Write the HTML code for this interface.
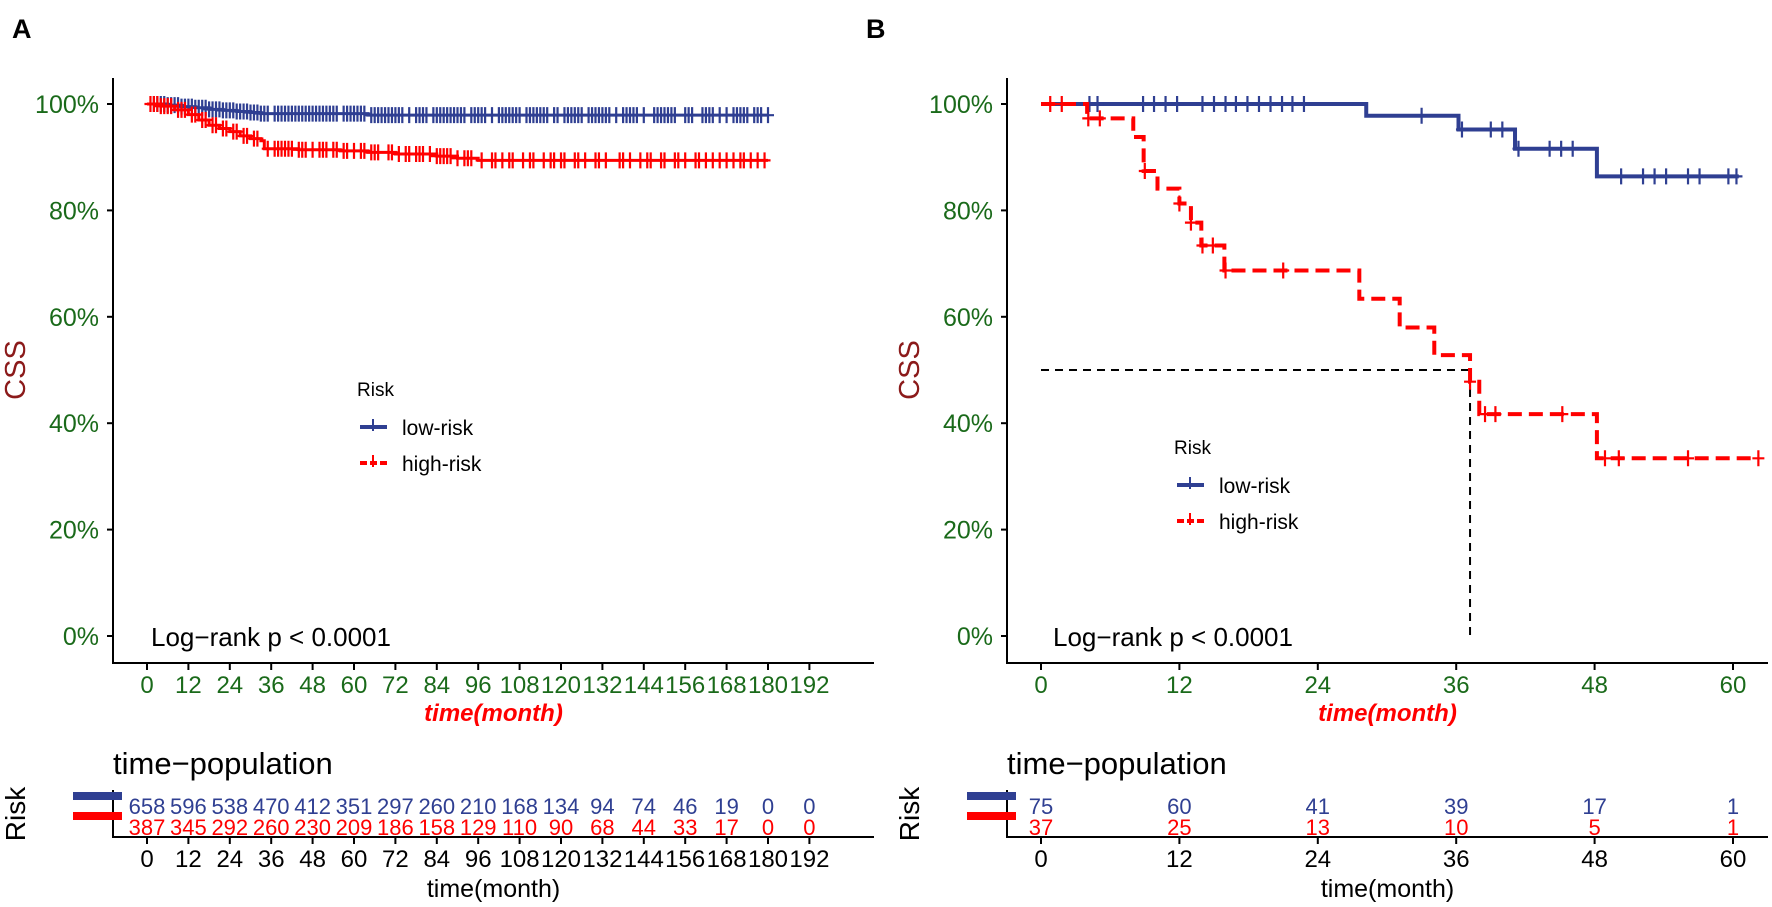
<!DOCTYPE html>
<html><head><meta charset="utf-8">
<style>
html,body{margin:0;padding:0;background:#fff;}
svg{display:block;font-family:"Liberation Sans",Arial,sans-serif;}
</style></head>
<body>
<svg id="fig" width="1772" height="907" viewBox="0 0 1772 907" xmlns="http://www.w3.org/2000/svg">
<rect width="1772" height="907" fill="#fff"/>
<text x="12" y="38" font-size="27" font-weight="bold">A</text>
<text x="866" y="38" font-size="27" font-weight="bold">B</text>
<g id="pa"></g>
<g id="pb"></g>
</svg>
<script>
// ---------- Panel A data ----------
const aLowTimes = [0,6,10,14,18,22,26,30,33,64];
const aLowSurv  = [100,99.8,99.5,99.3,99.0,98.8,98.6,98.4,98.2,97.9];
const aHighTimes = [0,4,8,12,15,18,21,24,27,30,33,34,44,56,64,72,84,90,96];
const aHighSurv  = [100,99.6,98.9,98.0,97.0,96.0,95.4,94.8,94.0,93.5,93.1,91.6,91.4,91.2,90.9,90.6,90.2,89.8,89.4];
const aLowCensor = [2,3,4,5,6,7,8,9,10,11,12,13,14,15,16,17,18,19,20,21,22,23,24,25,26,27,28,29,30,31,32,33,34,35,37,38,39,40,41,42,43,44,45,46,47,48,49,50,51,52,53,54,55,57,58,59,60,61,62,63,65,66,67,68,69,70,71,72,73,74,76,78,79,80,81,83,84,85,86,87,88,89,90,91,92,94,95,96,97,98,100,102,103,104,105,106,107,108,110,111,112,113,114,115,116,118,119,121,122,123,124,125,126,128,129,130,131,132,133,134,136,138,139,140,141,142,144,147,148,149,150,151,152,153,156,157,158,161,162,163,164,166,168,170,171,172,173,174,176,177,178,180];
const aHighCensor = [1,2,3,4,5,6,7,9,10,11,13,14,16,17,19,20,22,23,25,26,28,29,31,32,35,37,38,39,40,41,42,44,45,46,48,50,51,52,54,55,57,58,60,62,63,65,66,67,70,71,73,75,76,78,79,80,82,84,85,86,87,88,90,92,93,94,97,100,101,103,105,106,109,111,112,115,117,118,120,121,124,125,127,130,131,133,137,138,140,143,145,146,149,150,153,154,156,159,160,162,164,166,168,170,172,173,175,177,179];
const aTicks = [0,12,24,36,48,60,72,84,96,108,120,132,144,156,168,180,192];
const aRiskLow  = [658,596,538,470,412,351,297,260,210,168,134,94,74,46,19,0,0];
const aRiskHigh = [387,345,292,260,230,209,186,158,129,110,90,68,44,33,17,0,0];
// ---------- Panel B data ----------
const bLowTimes = [0,28.2,36.2,41.1,48.2];
const bLowSurv  = [100,97.8,95.2,91.6,86.4];
const bHighTimes = [0,4.0,8.0,8.9,10.1,12.0,13.0,13.9,15.9,27.6,31.1,34.1,37.2,38.0,48.2];
const bHighSurv  = [100,97.3,93.8,87.4,84.1,81.3,77.7,73.4,68.7,63.4,58.0,52.8,47.8,41.7,33.4];
const bLowCensor = [4.2,4.9,8.85,9.8,10.8,11.8,14.0,15.0,16.0,16.9,17.9,18.9,19.9,20.9,21.8,22.8,33.0,36.5,39.0,40.0,41.4,44.1,45.1,46.1,50.3,52.2,53.2,54.2,56.1,57.1,59.6,60.3];
const bHighCensor = [0.8,1.8,4.1,5.1,9.0,12.0,13.0,14.0,14.9,16.0,21.0,37.2,38.5,39.4,45.2,48.9,50.1,56.1,62.2];
const bTicks = [0,12,24,36,48,60];
const bRiskLow  = [75,60,41,39,17,1];
const bRiskHigh = [37,25,13,10,5,1];
const yTicks = [0,20,40,60,80,100];
const medianB = [37.2, 50];

const NS='http://www.w3.org/2000/svg';
const BLUE='#2f3f92', RED='#ff0000', GREEN='#1a6a1a', DARKRED='#8b1a1a';
function mk(parent, tag, attrs, txt){
  const e=document.createElementNS(NS,tag);
  for(const k in attrs) e.setAttribute(k,attrs[k]);
  if(txt!==undefined) e.textContent=txt;
  parent.appendChild(e); return e;
}
const yOf = p => 636 - p*5.32;
function survAt(times,surv,t){let v=surv[0];for(let i=0;i<times.length;i++){if(t>=times[i]) v=surv[i];}return v;}

function panel(g, cfg){
  const xOf = t => cfg.x0 + t*cfg.ppm;
  const ax = cfg.axisX, axEnd = cfg.axisEnd;
  let e=mk(g,'line',{x1:ax,y1:78,x2:ax,y2:663,stroke:'#000','stroke-width':2});
  
  
  e=mk(g,'line',{x1:ax-1,y1:663,x2:axEnd,y2:663,stroke:'#000','stroke-width':2});
  
  
  yTicks.forEach(p=>{
    mk(g,'line',{x1:ax-6,y1:yOf(p),x2:ax,y2:yOf(p),stroke:'#000','stroke-width':2});
    const t=mk(g,'text',{x:ax-14,y:yOf(p)+9,'font-size':25,'text-anchor':'end',fill:GREEN},p+'%');
    
    
  });
  cfg.ticks.forEach(v=>{
    mk(g,'line',{x1:xOf(v),y1:663,x2:xOf(v),y2:670,stroke:'#000','stroke-width':2});
    const t=mk(g,'text',{x:xOf(v),y:693,'font-size':24,'text-anchor':'middle',fill:GREEN},String(v));
    
    
  });
  e=mk(g,'text',{x:(ax+axEnd)/2,y:721,'font-size':24,'font-weight':'bold','font-style':'italic','text-anchor':'middle',fill:RED},'time(month)');
  
  
  e=mk(g,'text',{x:0,y:0,'font-size':29,'text-anchor':'middle',fill:DARKRED,transform:`translate(${ax-88},370) rotate(-90)`},'CSS');
  
  
  if(cfg.median){
    const [mt,mp]=cfg.median;
    e=mk(g,'path',{d:`M${xOf(0)},${yOf(mp)}H${xOf(mt)}V${yOf(0)}`,fill:'none',stroke:'#000','stroke-width':2,'stroke-dasharray':'8,6'});
    
    
  }
  const series=[
    {t:cfg.lowT,s:cfg.lowS,c:cfg.lowC,end:cfg.lowEnd,col:BLUE,dash:null,name:'low-risk'},
    {t:cfg.highT,s:cfg.highS,c:cfg.highC,end:cfg.highEnd,col:RED,dash:cfg.dash,name:'high-risk'}
  ];
  series.forEach(sr=>{
    let d=`M${xOf(sr.t[0])},${yOf(sr.s[0])}`;
    for(let i=1;i<sr.t.length;i++){d+=`H${xOf(sr.t[i])}V${yOf(sr.s[i])}`;}
    d+=`H${xOf(sr.end)}`;
    const p=mk(g,'path',{d:d,fill:'none',stroke:sr.col,'stroke-width':cfg.lw});
    if(sr.dash) p.setAttribute('stroke-dasharray',sr.dash);
    
    
    sr.c.forEach(ct=>{
      const yy=yOf(survAt(sr.t,sr.s,ct));
      const m=mk(g,'path',{d:`M${xOf(ct)},${yy-8}V${yy+8}M${xOf(ct)-6},${yy}H${xOf(ct)+6}`,stroke:sr.col,'stroke-width':2.2});
      
      
    });
  });
  e=mk(g,'text',{x:cfg.lrX,y:646,'font-size':26,'xml:space':'preserve'},cfg.lrText);
  
  
  const L=cfg.leg;
  e=mk(g,'text',{x:L.x,y:L.y+7,'font-size':19},'Risk');
  
  
  [[BLUE,null,'low-risk',L.y+38],[RED,'7,3','high-risk',L.y+74]].forEach(([col,ds,lab,yy])=>{
    const lg=mk(g,'g',{});
    
    
    const ln=mk(lg,'line',{x1:L.x+3,y1:yy,x2:L.x+30,y2:yy,stroke:col,'stroke-width':4});
    if(ds) ln.setAttribute('stroke-dasharray',ds);
    mk(lg,'line',{x1:L.x+16,y1:yy-8,x2:L.x+16,y2:yy+4,stroke:col,'stroke-width':2});
    mk(lg,'text',{x:L.x+45,y:yy+8,'font-size':21},lab);
  });
  e=mk(g,'text',{x:ax,y:774,'font-size':31},'time\u2212population');
  
  
  mk(g,'line',{x1:ax,y1:790,x2:ax,y2:837,stroke:'#000','stroke-width':2});
  e=mk(g,'line',{x1:ax-1,y1:837,x2:axEnd,y2:837,stroke:'#000','stroke-width':2});
  
  
  mk(g,'rect',{x:ax-40,y:792,width:49,height:8,fill:BLUE});
  mk(g,'rect',{x:ax-40,y:812,width:49,height:8,fill:RED});
  e=mk(g,'text',{x:0,y:0,'font-size':28,'text-anchor':'middle',transform:`translate(${ax-88},814) rotate(-90)`},'Risk');
  
  
  cfg.ticks.forEach((v,i)=>{
    mk(g,'line',{x1:xOf(v),y1:837,x2:xOf(v),y2:844,stroke:'#000','stroke-width':2});
    const t=mk(g,'text',{x:xOf(v),y:867,'font-size':24,'text-anchor':'middle'},String(v));
    
    
    const a=mk(g,'text',{x:xOf(v),y:814,'font-size':cfg.rfs,'text-anchor':'middle',fill:BLUE},String(cfg.riskLow[i]));
    
    
    const b=mk(g,'text',{x:xOf(v),y:835,'font-size':cfg.rfs,'text-anchor':'middle',fill:RED},String(cfg.riskHigh[i]));
    
    
  });
  e=mk(g,'text',{x:(ax+axEnd)/2,y:897,'font-size':25,'text-anchor':'middle'},'time(month)');
  
  
}

panel(document.getElementById('pa'),{
  x0:147, ppm:41.4/12, axisX:113, axisEnd:874, ticks:aTicks,
  lowT:aLowTimes, lowS:aLowSurv, lowC:aLowCensor, lowEnd:180,
  highT:aHighTimes, highS:aHighSurv, highC:aHighCensor, highEnd:180,
  lw:3, dash:null, median:null, lrX:151, lrText:'Log\u2212rank  p < 0.0001',
  leg:{x:357,y:389}, riskLow:aRiskLow, riskHigh:aRiskHigh, rfs:22
});
panel(document.getElementById('pb'),{
  x0:1041, ppm:138.4/12, axisX:1007, axisEnd:1768, ticks:bTicks,
  lowT:bLowTimes, lowS:bLowSurv, lowC:bLowCensor, lowEnd:60.5,
  highT:bHighTimes, highS:bHighSurv, highC:bHighCensor, highEnd:62.2,
  lw:4, dash:'14,7', median:medianB, lrX:1053, lrText:'Log\u2212rank      p < 0.0001',
  leg:{x:1174,y:447}, riskLow:bRiskLow, riskHigh:bRiskHigh, rfs:22
});
</script>
</body></html>
